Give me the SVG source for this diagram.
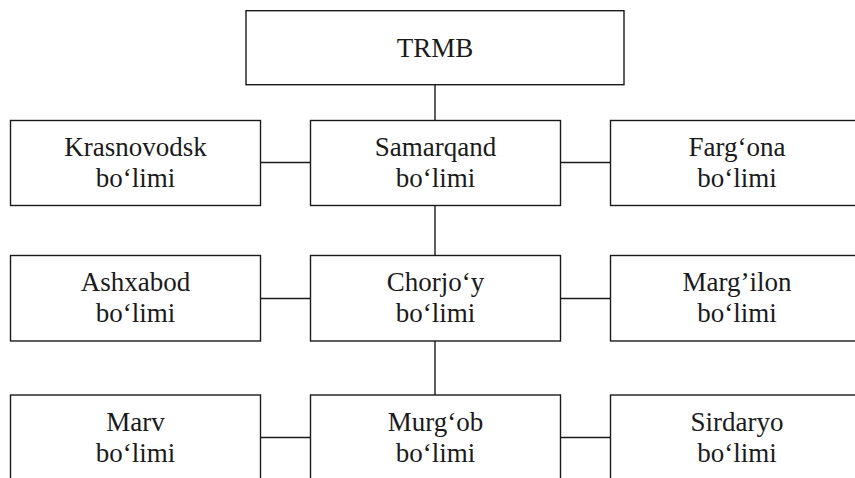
<svg xmlns="http://www.w3.org/2000/svg" width="855" height="478" viewBox="0 0 855 478">
<style>
.box{fill:#fff;stroke:#1a1a1a;stroke-width:1.4}
.ln{stroke:#1a1a1a;stroke-width:1.4;fill:none}
text{font-family:"Liberation Serif","Times New Roman",serif;font-size:27px;fill:#1a1a1a;text-anchor:middle}
</style>
<rect width="855" height="478" fill="#fff"/>
<g id="connectors">
<line class="ln" x1="435" y1="84.5" x2="435" y2="120.5"/>
<line class="ln" x1="435" y1="205" x2="435" y2="255.5"/>
<line class="ln" x1="435" y1="341" x2="435" y2="395"/>
<line class="ln" x1="260.5" y1="162.5" x2="310.5" y2="162.5"/>
<line class="ln" x1="560.5" y1="162.5" x2="610.5" y2="162.5"/>
<line class="ln" x1="260.5" y1="298.5" x2="310.5" y2="298.5"/>
<line class="ln" x1="560.5" y1="298.5" x2="610.5" y2="298.5"/>
<line class="ln" x1="260.5" y1="437.5" x2="310.5" y2="437.5"/>
<line class="ln" x1="560.5" y1="437.5" x2="610.5" y2="437.5"/>
</g>
<g id="trmb"><rect class="box" x="246" y="10.7" width="378" height="74"/><text x="435" y="57">TRMB</text></g>
<g id="krasnovodsk"><rect class="box" x="10.5" y="120.5" width="250" height="85"/><text x="135.5" y="156">Krasnovodsk</text><text x="135.5" y="187">bo‘limi</text></g>
<g id="samarqand"><rect class="box" x="310.5" y="120.5" width="250" height="85"/><text x="435.5" y="156">Samarqand</text><text x="435.5" y="187">bo‘limi</text></g>
<g id="fargona"><rect class="box" x="610.5" y="120.5" width="260" height="85"/><text x="737" y="156">Farg‘ona</text><text x="737" y="187">bo‘limi</text></g>
<g id="ashxabod"><rect class="box" x="10.5" y="255.5" width="250" height="85.5"/><text x="135.5" y="291">Ashxabod</text><text x="135.5" y="322">bo‘limi</text></g>
<g id="chorjoy"><rect class="box" x="310.5" y="255.5" width="250" height="85.5"/><text x="435.5" y="291">Chorjo‘y</text><text x="435.5" y="322">bo‘limi</text></g>
<g id="margilon"><rect class="box" x="610.5" y="255.5" width="260" height="85.5"/><text x="737" y="291">Marg’ilon</text><text x="737" y="322">bo‘limi</text></g>
<g id="marv"><rect class="box" x="10.5" y="395" width="250" height="100"/><text x="135.5" y="431">Marv</text><text x="135.5" y="462">bo‘limi</text></g>
<g id="murgob"><rect class="box" x="310.5" y="395" width="250" height="100"/><text x="435.5" y="431">Murg‘ob</text><text x="435.5" y="462">bo‘limi</text></g>
<g id="sirdaryo"><rect class="box" x="610.5" y="395" width="260" height="100"/><text x="737" y="431">Sirdaryo</text><text x="737" y="462">bo‘limi</text></g>
</svg>
